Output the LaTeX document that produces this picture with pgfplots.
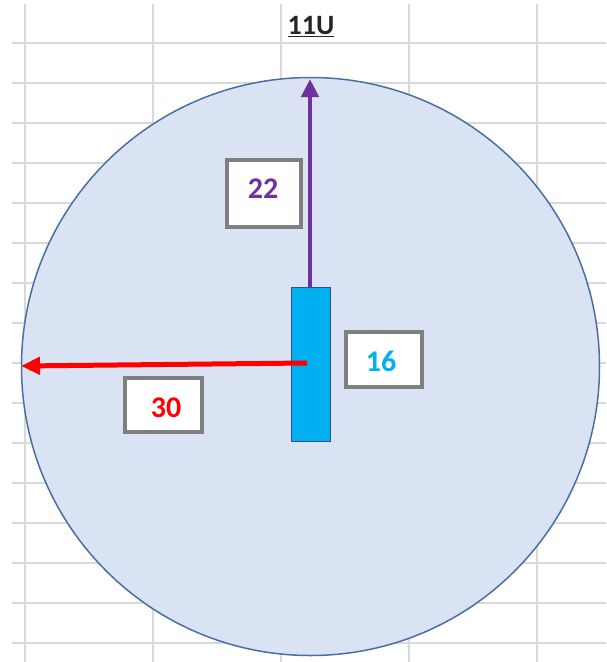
\documentclass[border=0pt]{standalone}
\usepackage{fontspec}
\setmainfont{Carlito}
\usepackage{pgfplots}
\pgfplotsset{compat=1.18}
\usetikzlibrary{arrows.meta}
\definecolor{gridc}{HTML}{D9D9D9}
\definecolor{circfill}{HTML}{DAE3F3}
\definecolor{circedge}{HTML}{4A6FA5}
\definecolor{rectfill}{HTML}{00B0F0}
\definecolor{rectedge}{HTML}{2F528F}
\definecolor{purp}{HTML}{7030A0}
\definecolor{boxgray}{HTML}{7F7F7F}
\definecolor{titlec}{HTML}{262626}
\begin{document}
\begin{tikzpicture}
\begin{axis}[
  width=606pt, height=662pt, scale only axis,
  xmin=0, xmax=606, ymin=0, ymax=662, y dir=reverse,
  axis lines=none, ticks=none,
  axis background/.style={fill=white},
  clip=true, clip marker paths=true,
]
% spreadsheet grid
\addplot[gridc, line width=1.3pt] coordinates {(25,4) (25,662)};
\addplot[gridc, line width=1.3pt] coordinates {(153,4) (153,662)};
\addplot[gridc, line width=1.3pt] coordinates {(281,4) (281,662)};
\addplot[gridc, line width=1.3pt] coordinates {(409,4) (409,662)};
\addplot[gridc, line width=1.3pt] coordinates {(537,4) (537,662)};
\addplot[gridc, line width=1.3pt] coordinates {(12,43) (606,43)};
\addplot[gridc, line width=1.3pt] coordinates {(12,83) (606,83)};
\addplot[gridc, line width=1.3pt] coordinates {(12,123) (606,123)};
\addplot[gridc, line width=1.3pt] coordinates {(12,163) (606,163)};
\addplot[gridc, line width=1.3pt] coordinates {(12,203) (606,203)};
\addplot[gridc, line width=1.3pt] coordinates {(12,243) (606,243)};
\addplot[gridc, line width=1.3pt] coordinates {(12,283) (606,283)};
\addplot[gridc, line width=1.3pt] coordinates {(12,323) (606,323)};
\addplot[gridc, line width=1.3pt] coordinates {(12,363) (606,363)};
\addplot[gridc, line width=1.3pt] coordinates {(12,403) (606,403)};
\addplot[gridc, line width=1.3pt] coordinates {(12,443) (606,443)};
\addplot[gridc, line width=1.3pt] coordinates {(12,483) (606,483)};
\addplot[gridc, line width=1.3pt] coordinates {(12,523) (606,523)};
\addplot[gridc, line width=1.3pt] coordinates {(12,563) (606,563)};
\addplot[gridc, line width=1.3pt] coordinates {(12,603) (606,603)};
\addplot[gridc, line width=1.3pt] coordinates {(12,643) (606,643)};
% big circle
\addplot[only marks, mark=*, mark size=289pt,
  mark options={fill=circfill, draw=circedge, line width=1.5pt}] coordinates {(310.5,366.5)};
% purple arrow
\addplot[purp, line width=4.5pt, -{Triangle[length=18pt,width=17pt]}] coordinates {(310,290) (310,79)};
% blue rectangle
\addplot[fill=rectfill, draw=rectedge, line width=1pt] coordinates {(291,287) (330,287) (330,441) (291,441)} -- cycle;
% red arrow
\addplot[red, line width=5pt, -{Triangle[length=19pt,width=17pt]}] coordinates {(307,363) (21,366)};
% label boxes
\addplot[fill=white, draw=boxgray, line width=3.2pt] coordinates {(227,160) (301,160) (301,227) (227,227)} -- cycle;
\addplot[fill=white, draw=boxgray, line width=3.2pt] coordinates {(346,332) (422,332) (422,387) (346,387)} -- cycle;
\addplot[fill=white, draw=boxgray, line width=3.2pt] coordinates {(125,378) (202,378) (202,432) (125,432)} -- cycle;
\node[font=\fontsize{30}{34}\selectfont\bfseries, text=purp] at (axis cs:263,189) {22};
\node[font=\fontsize{30}{34}\selectfont\bfseries, text=rectfill] at (axis cs:381,361) {16};
\node[font=\fontsize{30}{34}\selectfont\bfseries, text=red] at (axis cs:166,408) {30};
% title
\node[font=\fontsize{28}{32}\selectfont\bfseries, text=titlec] at (axis cs:311,27) {\underline{11U}};
\end{axis}
\end{tikzpicture}
\end{document}
